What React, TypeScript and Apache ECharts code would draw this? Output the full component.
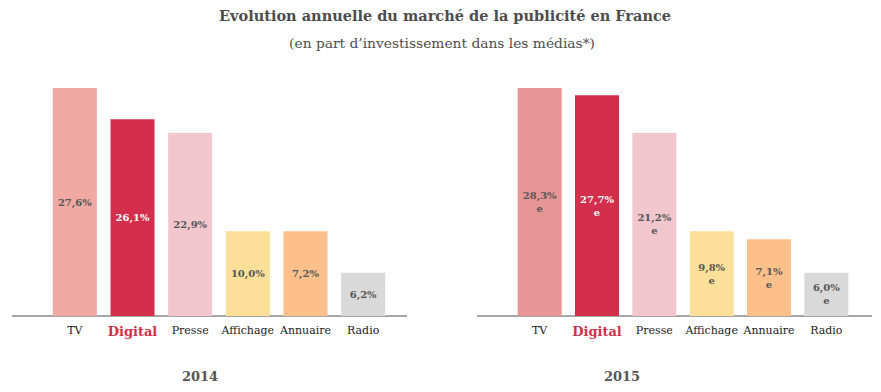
import React, { useEffect, useRef } from "react";
import * as echarts from "echarts";

const categories = ["TV", "Digital", "Presse", "Affichage", "Annuaire", "Radio"];
const shares2014 = ["27,6%", "26,1%", "22,9%", "10,0%", "7,2%", "6,2%"];
const shares2015 = ["28,3%", "27,7%", "21,2%", "9,8%", "7,1%", "6,0%"];
// bar lengths as drawn in the infographic (not proportional to the shares)
const heights2014 = [28.5, 24.6, 22.9, 10.6, 10.6, 5.4];
const heights2015 = [28.5, 27.6, 22.9, 10.6, 9.6, 5.4];
const years = ["2014", "2015"];
const colors2014 = ["#F0A9A3", "#D32F4C", "#F2C6CD", "#FCE09A", "#FDC08A", "#D9D9D9"];
const colors2015 = ["#E89595", "#D32F4C", "#F2C6CD", "#FCE09A", "#FDC08A", "#D9D9D9"];

const SERIF = "'DejaVu Serif', 'Liberation Serif', serif";

function makeXAxis(gridIndex: number) {
  return {
    type: "category",
    gridIndex,
    data: categories,
    axisLine: { show: false },
    axisTick: { show: false },
    axisLabel: {
      interval: 0,
      margin: 9,
      fontFamily: SERIF,
      fontSize: 11,
      color: "#222",
      formatter: (v: string) => (v === "Digital" ? "{d|" + v + "}" : v),
      rich: {
        d: { fontFamily: SERIF, fontSize: 13, fontWeight: "bold", color: "#D32F4C" },
      },
    },
  };
}

function makeYAxis(gridIndex: number) {
  return { type: "value", gridIndex, min: 0, max: 30, show: false, splitLine: { show: false } };
}

function makeSeries(idx: number, heights: number[], labels: string[], cols: string[], est: boolean) {
  return {
    type: "bar",
    xAxisIndex: idx,
    yAxisIndex: idx,
    barWidth: 44,
    data: heights.map((h, i) => ({
      value: h,
      itemStyle: { color: cols[i] },
      label: { color: categories[i] === "Digital" ? "#fff" : "#555" },
    })),
    label: {
      show: true,
      position: "inside",
      fontFamily: SERIF,
      fontSize: 10,
      fontWeight: "bold",
      lineHeight: 13,
      formatter: (p: any) => labels[p.dataIndex] + (est ? "\ne" : ""),
    },
  };
}

export default function App() {
  const ref = useRef<HTMLDivElement>(null);
  useEffect(() => {
    if (!ref.current) return;
    const chart = echarts.init(ref.current, undefined, { renderer: "svg" });
    chart.setOption({
      animation: false,
      grid: [
        { left: 46, width: 346, top: 76, bottom: 76 },
        { left: 511, width: 344, top: 76, bottom: 76 },
      ],
      xAxis: [makeXAxis(0), makeXAxis(1)],
      yAxis: [makeYAxis(0), makeYAxis(1)],
      series: [
        makeSeries(0, heights2014, shares2014, colors2014, false),
        makeSeries(1, heights2015, shares2015, colors2015, true),
      ],
      graphic: [
        {
          type: "text",
          x: 445,
          y: 15,
          style: {
            text: "Evolution annuelle du marché de la publicité en France",
            font: "bold 14.5px " + SERIF,
            fill: "#4d4d4d",
            align: "center",
            verticalAlign: "middle",
          },
        },
        {
          type: "text",
          x: 442,
          y: 43,
          style: {
            text: "(en part d’investissement dans les médias*)",
            font: "13.8px " + SERIF,
            fill: "#4d4d4d",
            align: "center",
            verticalAlign: "middle",
          },
        },
        { type: "line", shape: { x1: 12, y1: 316, x2: 407, y2: 316 }, style: { stroke: "#A6A6A6", lineWidth: 2 } },
        { type: "line", shape: { x1: 477, y1: 316, x2: 872, y2: 316 }, style: { stroke: "#A6A6A6", lineWidth: 2 } },
        {
          type: "text",
          x: 200,
          y: 376,
          style: { text: years[0], font: "bold 13px " + SERIF, fill: "#555", align: "center", verticalAlign: "middle" },
        },
        {
          type: "text",
          x: 622,
          y: 376,
          style: { text: years[1], font: "bold 13px " + SERIF, fill: "#555", align: "center", verticalAlign: "middle" },
        },
      ],
    });
    return () => chart.dispose();
  }, []);
  return <div ref={ref} style={{ position: "absolute", left: 0, top: 0, width: 881, height: 392 }} />;
}
